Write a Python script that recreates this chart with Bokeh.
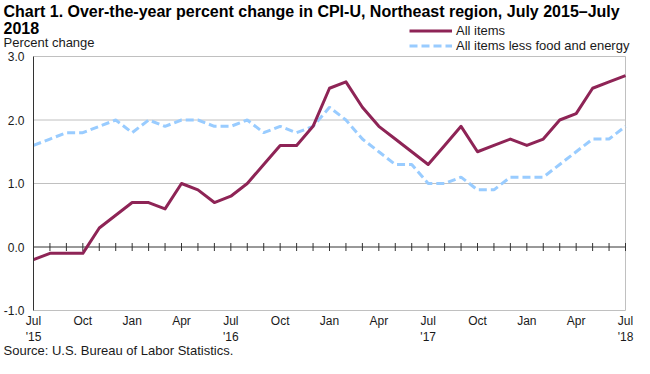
from bokeh.plotting import figure
from bokeh.models import (Range1d, FixedTicker, NumeralTickFormatter, Label, Legend, LegendItem)
from bokeh.embed import file_html
from bokeh.resources import INLINE

# ---- data ----
month_names = ["Jul 2015", "Aug 2015", "Sep 2015", "Oct 2015", "Nov 2015", "Dec 2015",
               "Jan 2016", "Feb 2016", "Mar 2016", "Apr 2016", "May 2016", "Jun 2016",
               "Jul 2016", "Aug 2016", "Sep 2016", "Oct 2016", "Nov 2016", "Dec 2016",
               "Jan 2017", "Feb 2017", "Mar 2017", "Apr 2017", "May 2017", "Jun 2017",
               "Jul 2017", "Aug 2017", "Sep 2017", "Oct 2017", "Nov 2017", "Dec 2017",
               "Jan 2018", "Feb 2018", "Mar 2018", "Apr 2018", "May 2018", "Jun 2018",
               "Jul 2018"]
all_items = [-0.2, -0.1, -0.1, -0.1, 0.3, 0.5, 0.7, 0.7, 0.6, 1.0, 0.9, 0.7,
             0.8, 1.0, 1.3, 1.6, 1.6, 1.9, 2.5, 2.6, 2.2, 1.9, 1.7, 1.5,
             1.3, 1.6, 1.9, 1.5, 1.6, 1.7, 1.6, 1.7, 2.0, 2.1, 2.5, 2.6, 2.7]
core_items = [1.6, 1.7, 1.8, 1.8, 1.9, 2.0, 1.8, 2.0, 1.9, 2.0, 2.0, 1.9,
              1.9, 2.0, 1.8, 1.9, 1.8, 1.9, 2.2, 2.0, 1.7, 1.5, 1.3, 1.3,
              1.0, 1.0, 1.1, 0.9, 0.9, 1.1, 1.1, 1.1, 1.3, 1.5, 1.7, 1.7, 1.9]
x_tick_labels = ["Jul\n'15", "Oct", "Jan", "Apr", "Jul\n'16", "Oct", "Jan", "Apr",
                 "Jul\n'17", "Oct", "Jan", "Apr", "Jul\n'18"]
y_ticks = [-1.0, 0.0, 1.0, 2.0, 3.0]
series_names = ["All items", "All items less food and energy"]
title_lines = ["Chart 1. Over-the-year percent change in CPI-U, Northeast region, July 2015\u2013July",
               "2018"]
y_axis_title = "Percent change"
source_note = "Source: U.S. Bureau of Labor Statistics."

months = list(range(len(month_names)))
x_ticks = months[::3]

FONT = "Liberation Sans"
RED = "#8E2456"
BLUE = "#99CCFF"
TXT = "#1a1a1a"
GRID = "#C0C0C0"
DARK = "#333333"

# ---- geometry (canvas pixels, origin top-left) ----
W, H = 634, 358
FL, FR, FT, FB = 33, 625, 56, 310          # edges of the plot box
KX = (FR - FL) / (months[-1] - months[0])
KY = (FB - FT) / (y_ticks[-1] - y_ticks[0])

x_start = months[0] - FL / KX
x_end = months[-1] + (W - FR) / KX
y_start = y_ticks[0] - (H - FB) / KY
y_end = y_ticks[-1] + FT / KY


def dx(cx):
    return months[0] + (cx - FL) / KX


def dy(cy):
    return y_ticks[-1] - (cy - FT) / KY


p = figure(width=W, height=H, output_backend="svg", toolbar_location=None, title=None,
           x_range=Range1d(x_start, x_end), y_range=Range1d(y_start, y_end),
           min_border_left=0, min_border_right=0, min_border_top=0, min_border_bottom=0)
p.background_fill_color = "white"
p.border_fill_color = "white"
p.outline_line_color = None
p.xgrid.visible = False
p.ygrid.visible = False

# y axis: drawn at the left edge of the plot box
p.yaxis.fixed_location = months[0]
p.yaxis.bounds = (y_ticks[0], y_ticks[-1])
p.yaxis.ticker = FixedTicker(ticks=y_ticks)
p.yaxis.formatter = NumeralTickFormatter(format="0.0")
p.yaxis.major_tick_line_color = None
p.yaxis.minor_tick_line_color = None
p.yaxis.major_tick_out = 0
p.yaxis.major_tick_in = 0
p.yaxis.axis_line_color = DARK
p.yaxis.major_label_standoff = 9
p.yaxis.major_label_text_font = FONT
p.yaxis.major_label_text_font_size = "12px"
p.yaxis.major_label_text_color = TXT

# x axis: labels under the plot box
p.xaxis.fixed_location = y_ticks[0]
p.xaxis.bounds = (months[0], months[-1])
p.xaxis.ticker = FixedTicker(ticks=x_ticks)
p.xaxis.major_label_overrides = {t: lab for t, lab in zip(x_ticks, x_tick_labels)}
p.xaxis.major_tick_line_color = None
p.xaxis.minor_tick_line_color = None
p.xaxis.major_tick_out = 0
p.xaxis.major_tick_in = 0
p.xaxis.axis_line_color = None
p.xaxis.major_label_standoff = 3
p.xaxis.major_label_text_font = FONT
p.xaxis.major_label_text_font_size = "12px"
p.xaxis.major_label_text_color = TXT

# plot box: horizontal grid lines (incl. top/bottom border) and right border
grid_levels = [t for t in y_ticks if t != 0]
p.segment(x0=[months[0]] * len(grid_levels), y0=grid_levels,
          x1=[months[-1]] * len(grid_levels), y1=grid_levels,
          line_color=GRID, line_width=1)
p.segment(x0=[months[-1]], y0=[y_ticks[0]], x1=[months[-1]], y1=[y_ticks[-1]],
          line_color=GRID, line_width=1)

# zero line with monthly tick marks
tick_half = 4 / KY
p.segment(x0=[months[0]], y0=[0], x1=[months[-1]], y1=[0], line_color=DARK, line_width=1)
p.segment(x0=months[1:], y0=[-tick_half] * (len(months) - 1),
          x1=months[1:], y1=[tick_half] * (len(months) - 1),
          line_color=DARK, line_width=1)

r_core = p.line(months, core_items, line_color=BLUE, line_width=3, line_dash="8 4")
r_all = p.line(months, all_items, line_color=RED, line_width=3, line_join="round")

legend = Legend(items=[LegendItem(label=series_names[0], renderers=[r_all]),
                       LegendItem(label=series_names[1], renderers=[r_core])],
                location=(409, H - 53), orientation="vertical",
                border_line_color=None, background_fill_alpha=0,
                padding=0, margin=0, spacing=0,
                glyph_width=43, glyph_height=15, label_height=15,
                label_standoff=4, label_text_font=FONT,
                label_text_font_size="13px", label_text_color=TXT)
p.add_layout(legend)


def add_text(txt, cx, cy, size, style="normal"):
    p.add_layout(Label(x=dx(cx), y=dy(cy), text=txt, text_font=FONT,
                       text_font_size=size, text_font_style=style,
                       text_color="#000000" if style == "bold" else TXT,
                       text_baseline="alphabetic", text_align="left"))


add_text(title_lines[0], 3, 11, "16px", "bold")
add_text(title_lines[1], 3, 27, "16px", "bold")
add_text(y_axis_title, 3, 42, "13px")
add_text(source_note, 3, 350, "13px")

open("out.html", "w").write(file_html(p, INLINE))
